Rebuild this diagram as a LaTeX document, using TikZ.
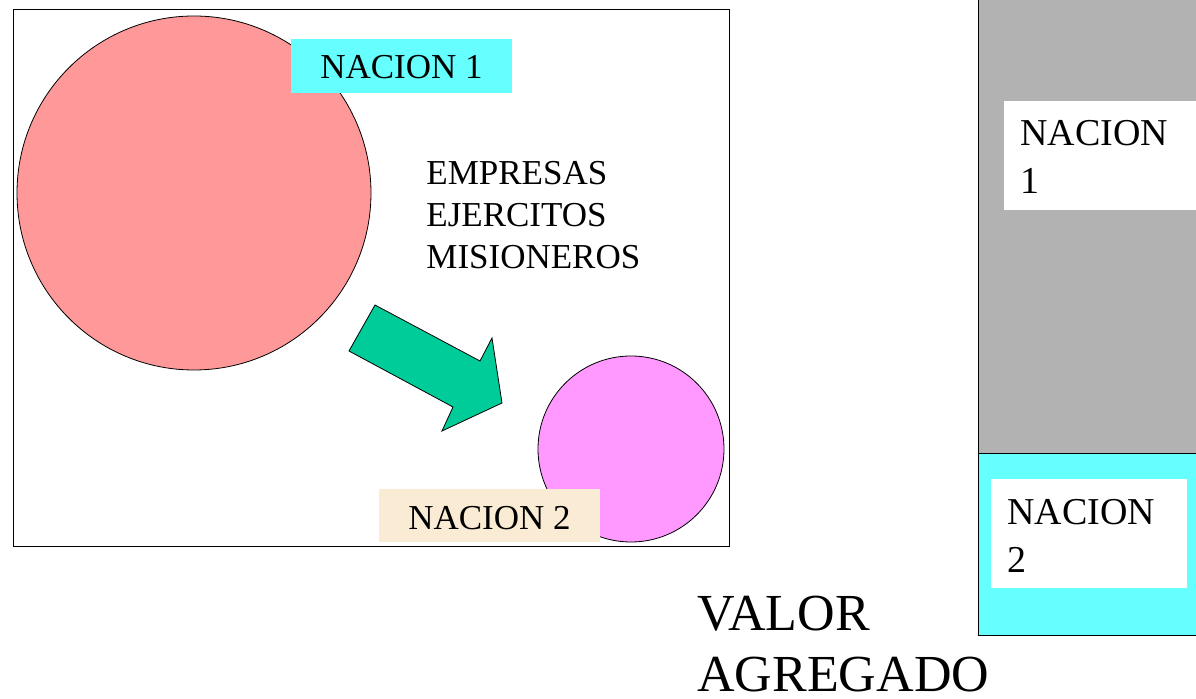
\documentclass[tikz,border=0pt]{standalone}
\usepackage{fontspec}
\setmainfont{Liberation Serif}
\definecolor{salmon}{RGB}{255,153,153}
\definecolor{lila}{RGB}{255,153,255}
\definecolor{celeste}{RGB}{102,255,255}
\definecolor{verde}{RGB}{0,204,153}
\definecolor{gris}{RGB}{178,178,178}
\definecolor{crema}{RGB}{250,236,212}

\begin{document}
\begin{tikzpicture}[x=0.5pt, y=-0.5pt,
    etiqueta/.style={font=\fontsize{17.5}{21}\selectfont, inner sep=0pt},
    caja/.style={font=\fontsize{19}{24}\selectfont, inner sep=0pt, align=left}]
        \clip (0,0) rectangle (1196,699);
        \fill[white] (0,0) rectangle (1196,699);
        
        % Marco
        \draw (13,9) rectangle (729,546);
        
        % Naciones (circulos)
        \filldraw[fill=salmon, draw=black] (194,193) circle (177);
        \filldraw[fill=lila, draw=black] (631,449) circle (93);
        
        % Flecha
        \filldraw[fill=verde, draw=black, line join=miter]
            (375,305) -- (480,361) -- (492,338) -- (502,403) -- (442,431)
            -- (453,407) -- (349,351) -- cycle;
        
        % Etiquetas
        \fill[celeste] (291,39) rectangle (512,93);
        \node[etiqueta] (n1) at (401.5,67) {NACION 1};
        \node[etiqueta, align=left, anchor=base west] (agentes) at (426,269)
            {EMPRESAS\\EJERCITOS\\MISIONEROS};
        \fill[crema] (379,489) rectangle (600,542);
        \node[etiqueta] (n2) at (489.5,518) {NACION 2};
        
        % Barra de valor agregado
        \filldraw[fill=gris, draw=black] (978,-5) rectangle (1205,453);
        \filldraw[fill=celeste, draw=black] (978,453) rectangle (1205,635);
        \fill[white] (1004,101) rectangle (1196,210);
        \node[caja, anchor=base west] (b1) at (1020,194) {NACION\\1};
        \fill[white] (991,479) rectangle (1187,588);
        \node[caja, anchor=base west] (b2) at (1007,573) {NACION\\2};
        
        \node[font=\fontsize{26}{30.5}\selectfont, inner sep=0pt, align=left,
            anchor=base west] (valor) at (697,692) {VALOR\\AGREGADO};
\end{tikzpicture}
\end{document}
